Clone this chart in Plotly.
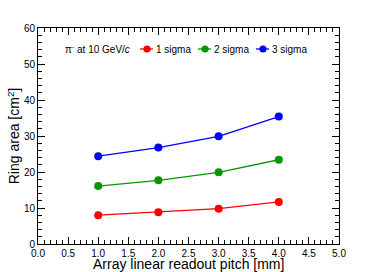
import plotly.graph_objects as go

pitch = [1.0, 2.0, 3.0, 4.0]
sigma1 = [8.0, 8.8, 9.8, 11.7]
sigma2 = [16.1, 17.7, 19.9, 23.4]
sigma3 = [24.4, 26.8, 29.9, 35.4]
names = ["1 sigma", "2 sigma", "3 sigma"]
colors = ["#ff0000", "#009a00", "#0000ff"]
series = [sigma1, sigma2, sigma3]

FONT = "Liberation Sans, Arial, sans-serif"

fig = go.Figure()
for name, col, vals in zip(names, colors, series):
    fig.add_trace(go.Scatter(
        x=pitch, y=vals, mode="lines+markers", name=name,
        line=dict(color=col, width=1.3),
        marker=dict(color=col, size=8, symbol="circle"),
        showlegend=False,
    ))

W, H = 377, 272
ml, mt = 38, 28
pw, ph = 301, 216
mr, mb = W - ml - pw, H - mt - ph

def px(x):  # window pixel -> paper
    return (x - ml) / pw

def py(y):
    return (mt + ph - y) / ph

# manual ROOT-style legend
ly = py(49)
annotations = [dict(
    x=px(63), y=ly, xref="paper", yref="paper", xanchor="left", yanchor="middle",
    text="π<sup>-</sup> at 10 GeV/<i>c</i>", showarrow=False,
    font=dict(family=FONT, size=10, color="black"))]
shapes = []
marker_x = [147, 205, 263]
for name, col, mx in zip(names, colors, marker_x):
    shapes.append(dict(type="line", xref="paper", yref="paper",
                       x0=px(mx - 7), x1=px(mx + 6), y0=ly, y1=ly,
                       line=dict(color=col, width=1.3)))
    shapes.append(dict(type="circle", xref="paper", yref="paper",
                       xsizemode="pixel", ysizemode="pixel",
                       xanchor=px(mx), yanchor=ly,
                       x0=-3.6, x1=3.6, y0=-3.6, y1=3.6,
                       fillcolor=col, line=dict(color=col, width=0)))
    annotations.append(dict(
        x=px(mx + 7), y=ly, xref="paper", yref="paper", xanchor="left", yanchor="middle",
        text=name, showarrow=False, font=dict(family=FONT, size=10, color="black")))

# x title (centered)
annotations.append(dict(
    x=0.5, y=0, xref="paper", yref="paper", xanchor="center", yanchor="top",
    yshift=-11, text="Array linear readout pitch [mm]", showarrow=False,
    borderpad=0, font=dict(family=FONT, size=14, color="black")))

axis_common = dict(
    showgrid=False, zeroline=False, showline=True, linecolor="black", linewidth=1,
    mirror="allticks", ticks="inside", ticklen=7, tickwidth=1, tickcolor="black",
    tickfont=dict(family=FONT, size=10, color="black"), automargin=False,
)

fig.update_xaxes(range=[0, 5], dtick=0.5, tickformat=".1f",
                 minor=dict(dtick=0.1, ticks="inside", ticklen=4, tickcolor="black"),
                 **axis_common)
fig.update_yaxes(range=[0, 60], dtick=10,
                 minor=dict(dtick=2, ticks="inside", ticklen=4, tickcolor="black"),
                 title=dict(text="Ring area [cm<sup>2</sup>]", standoff=0,
                            font=dict(family=FONT, size=14, color="black")),
                 **axis_common)

fig.update_layout(
    width=W, height=H, autosize=False,
    margin=dict(l=ml, r=mr, t=mt, b=mb, pad=0),
    paper_bgcolor="white", plot_bgcolor="white",
    annotations=annotations, shapes=shapes, showlegend=False,
)

fig.write_html(
    "out.html",
    config={"displayModeBar": False},
    post_script="document.body.style.margin='0';document.body.style.overflow='hidden';",
)
